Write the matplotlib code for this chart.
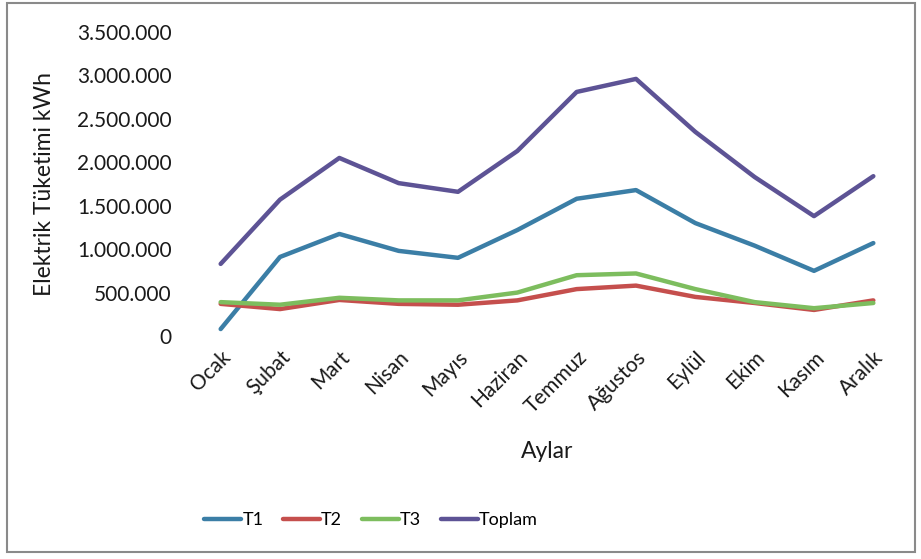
import matplotlib
matplotlib.use("Agg")
import matplotlib.pyplot as plt
from matplotlib.ticker import FuncFormatter
from matplotlib.patches import Rectangle

plt.rcParams['font.family'] = ['Lato', 'DejaVu Sans']

months = ["Ocak", "Şubat", "Mart", "Nisan", "Mayıs", "Haziran",
          "Temmuz", "Ağustos", "Eylül", "Ekim", "Kasım", "Aralık"]
t1 = [80000, 910000, 1175000, 980000, 900000, 1220000,
      1580000, 1680000, 1300000, 1040000, 750000, 1070000]
t2 = [370000, 310000, 415000, 370000, 360000, 410000,
      540000, 580000, 450000, 380000, 300000, 410000]
t3 = [390000, 360000, 440000, 410000, 410000, 500000,
      700000, 720000, 540000, 390000, 320000, 380000]
toplam = [830000, 1570000, 2050000, 1760000, 1660000, 2130000,
          2810000, 2960000, 2350000, 1830000, 1380000, 1840000]

series = [("T1", t1, "#3B7EA6"), ("T2", t2, "#C54F4D"),
          ("T3", t3, "#7DBD5E"), ("Toplam", toplam, "#5D5395")]

W, H = 921, 559
fig = plt.figure(figsize=(W / 100, H / 100), dpi=100)
fig.patches.append(Rectangle((7 / W, 7 / H), 908 / W, 549 / H, transform=fig.transFigure,
                             fill=False, edgecolor="#8a8a8a", linewidth=1.5))

ax = fig.add_axes([191 / W, 1 - 336 / H, (903 - 191) / W, (336 - 32) / H])
x = list(range(len(months)))
for name, vals, col in series:
    ax.plot(x, vals, color=col, linewidth=3.2, label=name, solid_capstyle="round")

ax.set_xlim(-0.5, len(months) - 0.5)
ax.set_ylim(0, 3500000)
ax.set_yticks(range(0, 3500001, 500000))
ax.yaxis.set_major_formatter(FuncFormatter(lambda v, p: f"{int(v):,}".replace(",", ".")))
ax.set_xticks(x)
ax.set_xticklabels(months, rotation=45, ha="right", rotation_mode="anchor")
ax.tick_params(length=0, labelsize=15, colors="#1a1a1a")
ax.tick_params(axis="y", pad=14)
ax.tick_params(axis="x", pad=8)
for s in ax.spines.values():
    s.set_visible(False)

ax.set_xlabel("Aylar", fontsize=16.5, color="#1a1a1a", labelpad=17)
ax.set_ylabel("Elektrik Tüketimi kWh", fontsize=16.5, color="#1a1a1a", labelpad=16)

fig.legend(loc="center", bbox_to_anchor=(371 / W, 1 - 520 / H), ncol=4, frameon=False,
           fontsize=13, handlelength=2.05, handletextpad=0.05, columnspacing=1.1)

fig.savefig("out.png", dpi=100)
